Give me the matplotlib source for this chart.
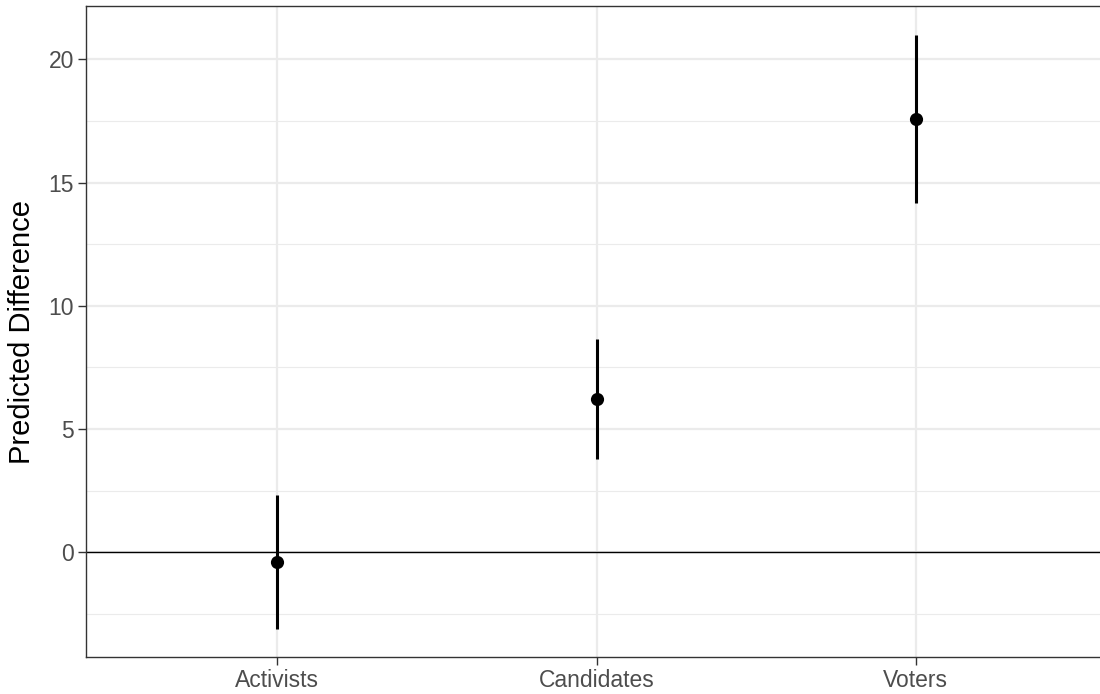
import matplotlib
matplotlib.use("Agg")
from matplotlib import pyplot as plt
from matplotlib.ticker import MultipleLocator

# Data
groups = ["Activists", "Candidates", "Voters"]
estimate = [-0.41, 6.22, 17.58]
lower = [-3.10, 3.79, 14.15]
upper = [2.31, 8.65, 21.0]

plt.rcParams['font.family'] = ['Liberation Sans', 'DejaVu Sans']

fig = plt.figure(figsize=(11, 6.94), dpi=100)
ax = fig.add_axes([86 / 1100, (694 - 656.7) / 694, (1107 - 86) / 1100, (656.7 - 6.3) / 694])

x = list(range(1, len(groups) + 1))

# grid like theme_bw
ax.set_axisbelow(True)
ax.yaxis.set_major_locator(MultipleLocator(5))
ax.yaxis.set_minor_locator(MultipleLocator(2.5))
ax.grid(which='major', color='#EBEBEB', linewidth=1.6)
ax.grid(which='minor', axis='y', color='#EBEBEB', linewidth=0.8)

ax.axhline(0, color='black', linewidth=1.0, zorder=1.5)

ax.vlines(x, lower, upper, color='black', linewidth=2.2, zorder=3)
ax.scatter(x, estimate, s=90, color='black', zorder=4, linewidths=0)

ax.set_xlim(0.4, 3.6)
ax.set_ylim(-4.24, 22.15)
ax.set_xticks(x)
ax.set_xticklabels(groups)

for s in ax.spines.values():
    s.set_color('#333333')
    s.set_linewidth(1.0)

ax.tick_params(which='major', length=5.5, width=1.0, color='#333333',
               labelsize=16.5, labelcolor='#4D4D4D', pad=3)
ax.tick_params(which='minor', length=0)

ax.set_ylabel('Predicted Difference', fontsize=21, color='black', labelpad=9)

fig.savefig('out.png', dpi=100)
